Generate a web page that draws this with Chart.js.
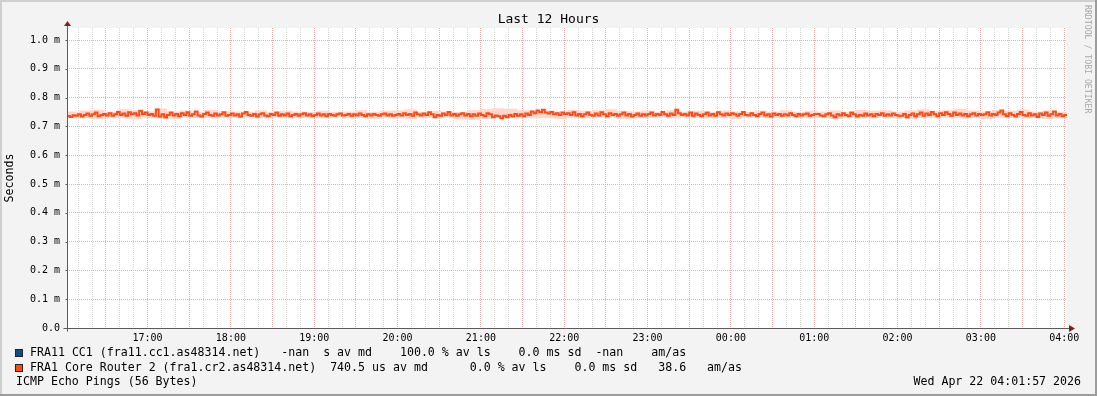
<!DOCTYPE html>
<html>
<head>
<meta charset="utf-8">
<script src="https://cdn.jsdelivr.net/npm/chart.js@4/dist/chart.umd.min.js"></script>
<style>
  html, body { margin: 0; padding: 0; background: #f3f3f3; }
  canvas { display: block; }
</style>
</head>
<body>
<canvas id="grafico" width="1097" height="396"></canvas>
<script>
// dados (valores em ms, eixo mostra "m" = mili-segundos)
const titulo = "Last 12 Hours";
const rotuloEixoY = "Seconds";
const marcaDagua = "RRDTOOL / TOBI OETIKER";
const rodapeEsq = "ICMP Echo Pings (56 Bytes)";
const rodapeDir = "Wed Apr 22 04:01:57 2026";

const rotulosHora = ["17:00", "18:00", "19:00", "20:00", "21:00", "22:00",
    "23:00", "00:00", "01:00", "02:00", "03:00", "04:00"];
const valoresY = [0, 0.1, 0.2, 0.3, 0.4, 0.5, 0.6, 0.7, 0.8, 0.9, 1.0];
const rotulosY = ["0.0", "0.1 m", "0.2 m", "0.3 m", "0.4 m", "0.5 m",
    "0.6 m", "0.7 m", "0.8 m", "0.9 m", "1.0 m"];

const nomesSeries = ["FRA11 CC1 (fra11.cc1.as48314.net)",
    "FRA1 Core Router 2 (fra1.cr2.as48314.net)"];
const coresSeries = ["#0c4f8e", "#ff4a14"];
const estatisticas = [
    "   -nan  s av md    100.0 % av ls    0.0 ms sd  -nan    am/as",
    "  740.5 us av md      0.0 % av ls    0.0 ms sd   38.6   am/as",
];

// minutos desde 16:00 (início 16:02, fim 04:02)
const inicioMin = 2;
const fimMin = 722;
const passoMediana = 2;
const passoFumaca = 9;

// FRA11 CC1 não tem dados (-nan)
const medianaFra11 = [];

// mediana FRA1 Core Router 2, a cada 2 minutos (uma linha = 1 hora)
const medianaFra1 = [
    0.736, 0.733, 0.739, 0.737, 0.742, 0.734, 0.740, 0.745, 0.737, 0.742, 0.748, 0.735, 0.740, 0.743, 0.738, 0.746, 0.737, 0.742, 0.750, 0.740, 0.745, 0.737, 0.749, 0.742, 0.746, 0.738, 0.754, 0.743, 0.748, 0.740,
    0.743, 0.737, 0.759, 0.734, 0.742, 0.731, 0.740, 0.748, 0.738, 0.743, 0.735, 0.746, 0.740, 0.749, 0.737, 0.742, 0.752, 0.738, 0.734, 0.743, 0.748, 0.740, 0.737, 0.745, 0.738, 0.742, 0.749, 0.737, 0.740, 0.745,
    0.738, 0.742, 0.734, 0.745, 0.750, 0.740, 0.737, 0.743, 0.734, 0.742, 0.746, 0.738, 0.735, 0.743, 0.740, 0.748, 0.737, 0.742, 0.738, 0.745, 0.735, 0.740, 0.743, 0.737, 0.742, 0.746, 0.738, 0.742, 0.735, 0.740,
    0.745, 0.738, 0.742, 0.735, 0.743, 0.740, 0.737, 0.742, 0.745, 0.738, 0.740, 0.743, 0.737, 0.742, 0.738, 0.745, 0.740, 0.735, 0.742, 0.738, 0.743, 0.740, 0.737, 0.742, 0.745, 0.738, 0.742, 0.737, 0.740, 0.743,
    0.738, 0.746, 0.740, 0.743, 0.737, 0.748, 0.742, 0.738, 0.745, 0.740, 0.749, 0.742, 0.732, 0.740, 0.737, 0.745, 0.740, 0.750, 0.738, 0.743, 0.737, 0.742, 0.746, 0.738, 0.743, 0.735, 0.742, 0.737, 0.745, 0.740,
    0.735, 0.746, 0.742, 0.732, 0.738, 0.735, 0.728, 0.737, 0.732, 0.740, 0.734, 0.743, 0.737, 0.742, 0.735, 0.745, 0.740, 0.752, 0.746, 0.755, 0.749, 0.758, 0.748, 0.745, 0.750, 0.742, 0.746, 0.740, 0.748, 0.743,
    0.746, 0.740, 0.749, 0.738, 0.743, 0.735, 0.742, 0.748, 0.740, 0.737, 0.745, 0.738, 0.749, 0.742, 0.735, 0.746, 0.740, 0.743, 0.737, 0.742, 0.748, 0.738, 0.743, 0.734, 0.740, 0.745, 0.737, 0.742, 0.738, 0.743,
    0.748, 0.738, 0.743, 0.740, 0.750, 0.742, 0.737, 0.745, 0.740, 0.758, 0.746, 0.740, 0.743, 0.738, 0.748, 0.737, 0.745, 0.740, 0.735, 0.742, 0.748, 0.738, 0.743, 0.737, 0.749, 0.742, 0.738, 0.745, 0.740, 0.746,
    0.742, 0.737, 0.743, 0.750, 0.740, 0.738, 0.746, 0.740, 0.735, 0.743, 0.748, 0.738, 0.742, 0.734, 0.745, 0.740, 0.743, 0.737, 0.742, 0.738, 0.746, 0.740, 0.735, 0.743, 0.738, 0.742, 0.745, 0.737, 0.740, 0.743,
    0.743, 0.738, 0.735, 0.742, 0.746, 0.738, 0.732, 0.742, 0.738, 0.746, 0.740, 0.735, 0.748, 0.742, 0.734, 0.740, 0.737, 0.745, 0.738, 0.742, 0.735, 0.743, 0.740, 0.746, 0.737, 0.742, 0.738, 0.745, 0.740, 0.737,
    0.737, 0.743, 0.732, 0.740, 0.745, 0.735, 0.742, 0.748, 0.737, 0.745, 0.740, 0.750, 0.742, 0.735, 0.746, 0.740, 0.749, 0.743, 0.737, 0.748, 0.740, 0.745, 0.738, 0.743, 0.735, 0.742, 0.746, 0.738, 0.743, 0.740,
    0.742, 0.749, 0.738, 0.743, 0.740, 0.748, 0.755, 0.742, 0.735, 0.746, 0.740, 0.734, 0.743, 0.750, 0.740, 0.737, 0.746, 0.738, 0.742, 0.733, 0.745, 0.740, 0.748, 0.737, 0.742, 0.752, 0.738, 0.743, 0.735, 0.740,
];

// faixa de "fumaça" (min/max dos pings), a cada 9 minutos
const fumacaAlta = [
    0.752, 0.755, 0.758, 0.751, 0.760, 0.756, 0.753, 0.762, 0.752, 0.755,
    0.751, 0.757, 0.753, 0.752, 0.750, 0.755, 0.751, 0.754, 0.752, 0.750,
    0.754, 0.751, 0.752, 0.756, 0.751, 0.754, 0.755, 0.759, 0.751, 0.754,
    0.752, 0.750, 0.756, 0.760, 0.763, 0.761, 0.756, 0.754, 0.755, 0.752,
    0.757, 0.754, 0.756, 0.760, 0.754, 0.752, 0.755, 0.751, 0.756, 0.752,
    0.754, 0.751, 0.755, 0.752, 0.750, 0.754, 0.752, 0.756, 0.751, 0.754,
    0.752, 0.755, 0.751, 0.757, 0.754, 0.756, 0.752, 0.755, 0.760, 0.754,
    0.756, 0.761, 0.755, 0.752, 0.757, 0.754, 0.759, 0.752, 0.755, 0.751,
];
const fumacaBaixa = [
    0.728, 0.729, 0.726, 0.730, 0.728, 0.725, 0.729, 0.728, 0.726, 0.730,
    0.729, 0.728, 0.730, 0.729, 0.731, 0.728, 0.730, 0.729, 0.728, 0.730,
    0.729, 0.731, 0.728, 0.729, 0.726, 0.730, 0.728, 0.725, 0.729, 0.728,
    0.730, 0.724, 0.722, 0.726, 0.729, 0.731, 0.730, 0.728, 0.729, 0.726,
    0.729, 0.728, 0.730, 0.729, 0.726, 0.728, 0.729, 0.730, 0.728, 0.729,
    0.730, 0.728, 0.729, 0.726, 0.730, 0.729, 0.728, 0.730, 0.729, 0.728,
    0.729, 0.726, 0.730, 0.728, 0.729, 0.730, 0.728, 0.726, 0.729, 0.728,
    0.730, 0.728, 0.729, 0.726, 0.729, 0.730, 0.728, 0.729, 0.726, 0.728,
];

const fonteMono = "'DejaVu Sans Mono', monospace";

// transforma a série em pontos {x,y} e fecha o último degrau no fim do gráfico
function montarPontos(valores, passo) {
    const pontos = valores.map((v, i) => ({ x: inicioMin + i * passo, y: v }));
    if (valores.length) {
        pontos.push({ x: fimMin, y: valores[valores.length - 1] });
    }
    return pontos;
}

const marcasX = [];
for (let m = 10; m <= 720; m += 10) marcasX.push(m);

const corGradeMaior = "#f3aaaa";
const corGradeMenor = "#d6d6d6";

// moldura, fundo da área do gráfico, eixos, setas e textos estilo rrdtool
const pluginMoldura = {
    id: "moldura",
    beforeDraw(chart) {
        const ctx = chart.ctx;
        const a = chart.chartArea;
        const w = chart.width;
        const h = chart.height;
        ctx.save();
        ctx.fillStyle = "#f3f3f3";
        ctx.fillRect(0, 0, w, h);
        ctx.fillStyle = "#cfcfcf";
        ctx.fillRect(0, 0, w, 2);
        ctx.fillRect(0, 0, 2, h);
        ctx.fillStyle = "#9c9c9c";
        ctx.fillRect(0, h - 2, w, 2);
        ctx.fillRect(w - 2, 0, 2, h);
        ctx.fillStyle = "#ffffff";
        ctx.fillRect(a.left, a.top, a.right - a.left, a.bottom - a.top);
        ctx.restore();
    },
    afterDraw(chart) {
        const ctx = chart.ctx;
        const a = chart.chartArea;
        const y0 = Math.round(chart.scales.y.getPixelForValue(0)) + 0.5;
        const x0 = Math.round(a.left) + 0.5;
        ctx.save();

        // eixos
        ctx.strokeStyle = "#5a5a5a";
        ctx.lineWidth = 1;
        ctx.beginPath();
        ctx.moveTo(x0, a.top - 3);
        ctx.lineTo(x0, y0 + 3);
        ctx.moveTo(x0 - 4, y0);
        ctx.lineTo(a.right + 3, y0);
        ctx.stroke();

        // pequenos traços nos rótulos do eixo y
        ctx.beginPath();
        valoresY.forEach((v) => {
            const py = Math.round(chart.scales.y.getPixelForValue(v)) + 0.5;
            ctx.moveTo(x0 - 2, py);
            ctx.lineTo(x0, py);
        });
        ctx.stroke();

        // setas
        ctx.fillStyle = "#8a1c1c";
        ctx.beginPath();
        ctx.moveTo(x0, a.top - 7);
        ctx.lineTo(x0 - 3.5, a.top - 2);
        ctx.lineTo(x0 + 3.5, a.top - 2);
        ctx.closePath();
        ctx.fill();
        ctx.beginPath();
        ctx.moveTo(a.right + 8, y0);
        ctx.lineTo(a.right + 2, y0 - 3.5);
        ctx.lineTo(a.right + 2, y0 + 3.5);
        ctx.closePath();
        ctx.fill();

        // título
        ctx.fillStyle = "#000";
        ctx.textBaseline = "middle";
        ctx.textAlign = "center";
        ctx.font = "13px " + fonteMono;
        ctx.fillText(titulo, chart.width / 2, 20);

        // rótulo vertical "Seconds"
        ctx.font = "11.6px " + fonteMono;
        ctx.save();
        ctx.translate(10, (a.top + a.bottom) / 2);
        ctx.rotate(-Math.PI / 2);
        ctx.fillText(rotuloEixoY, 0, 0);
        ctx.restore();

        // marca d'água rrdtool
        ctx.save();
        ctx.fillStyle = "#a8a8a8";
        ctx.font = "8.2px " + fonteMono;
        ctx.textAlign = "left";
        ctx.translate(1087, 5);
        ctx.rotate(Math.PI / 2);
        ctx.fillText(marcaDagua, 0, 0);
        ctx.restore();

        // legenda
        ctx.textAlign = "left";
        ctx.font = "11.6px " + fonteMono;
        const linhasY = [353, 368];
        nomesSeries.forEach((nome, i) => {
            const ly = linhasY[i];
            ctx.fillStyle = coresSeries[i];
            ctx.fillRect(15, ly - 4, 8, 8);
            ctx.strokeStyle = "#222";
            ctx.strokeRect(15.5, ly - 3.5, 7, 7);
            ctx.fillStyle = "#000";
            ctx.fillText(nome + estatisticas[i], 30, ly);
        });
        ctx.fillText(rodapeEsq, 16, 382);
        ctx.textAlign = "right";
        ctx.fillText(rodapeDir, 1081, 382);

        ctx.restore();
    },
};

const ctxGrafico = document.getElementById("grafico");

new Chart(ctxGrafico, {
    type: "line",
    data: {
        datasets: [
            {
                label: nomesSeries[1],
                data: montarPontos(medianaFra1, passoMediana),
                borderColor: coresSeries[1],
                borderWidth: 2,
                stepped: true,
                pointRadius: 0,
                fill: false,
            },
            {
                label: "fumaca alta",
                data: montarPontos(fumacaAlta, passoFumaca),
                borderWidth: 0,
                borderColor: "rgba(0,0,0,0)",
                backgroundColor: "#ffd7cd",
                stepped: true,
                pointRadius: 0,
                fill: "+1",
            },
            {
                label: "fumaca baixa",
                data: montarPontos(fumacaBaixa, passoFumaca),
                borderWidth: 0,
                borderColor: "rgba(0,0,0,0)",
                stepped: true,
                pointRadius: 0,
                fill: false,
            },
            {
                label: nomesSeries[0],
                data: medianaFra11,
                borderColor: coresSeries[0],
                borderWidth: 2,
                pointRadius: 0,
                fill: false,
            },
        ],
    },
    options: {
        responsive: false,
        animation: false,
        devicePixelRatio: 1,
        layout: {
            padding: { left: 0, right: 30, top: 28, bottom: 0 },
        },
        plugins: {
            legend: { display: false },
            tooltip: { enabled: false },
            title: { display: false },
        },
        scales: {
            x: {
                type: "linear",
                min: inicioMin,
                max: fimMin,
                afterFit: (escala) => {
                    escala.height = 68;
                },
                afterBuildTicks: (escala) => {
                    escala.ticks = marcasX.map((v) => ({ value: v }));
                },
                ticks: {
                    autoSkip: false,
                    maxRotation: 0,
                    padding: 4,
                    color: "#000",
                    font: { family: fonteMono, size: 10 },
                    callback: (valor) => (valor % 60 === 0 ? rotulosHora[valor / 60 - 1] : ""),
                },
                grid: {
                    drawTicks: false,
                    lineWidth: 1,
                    color: (c) => (c.tick && c.tick.value % 30 === 0 ? corGradeMaior : corGradeMenor),
                },
                border: { display: false, dash: [1, 1] },
            },
            y: {
                min: 0,
                max: 1.0417,
                afterFit: (escala) => {
                    escala.width = 67;
                },
                afterBuildTicks: (escala) => {
                    escala.ticks = valoresY.map((v) => ({ value: v }));
                },
                ticks: {
                    padding: 7,
                    color: "#000",
                    font: { family: fonteMono, size: 10 },
                    callback: (valor, indice) => rotulosY[indice],
                },
                grid: {
                    drawTicks: false,
                    lineWidth: 1,
                    color: corGradeMaior,
                },
                border: { display: false, dash: [1, 1] },
            },
        },
    },
    plugins: [pluginMoldura],
});
</script>
</body>
</html>
